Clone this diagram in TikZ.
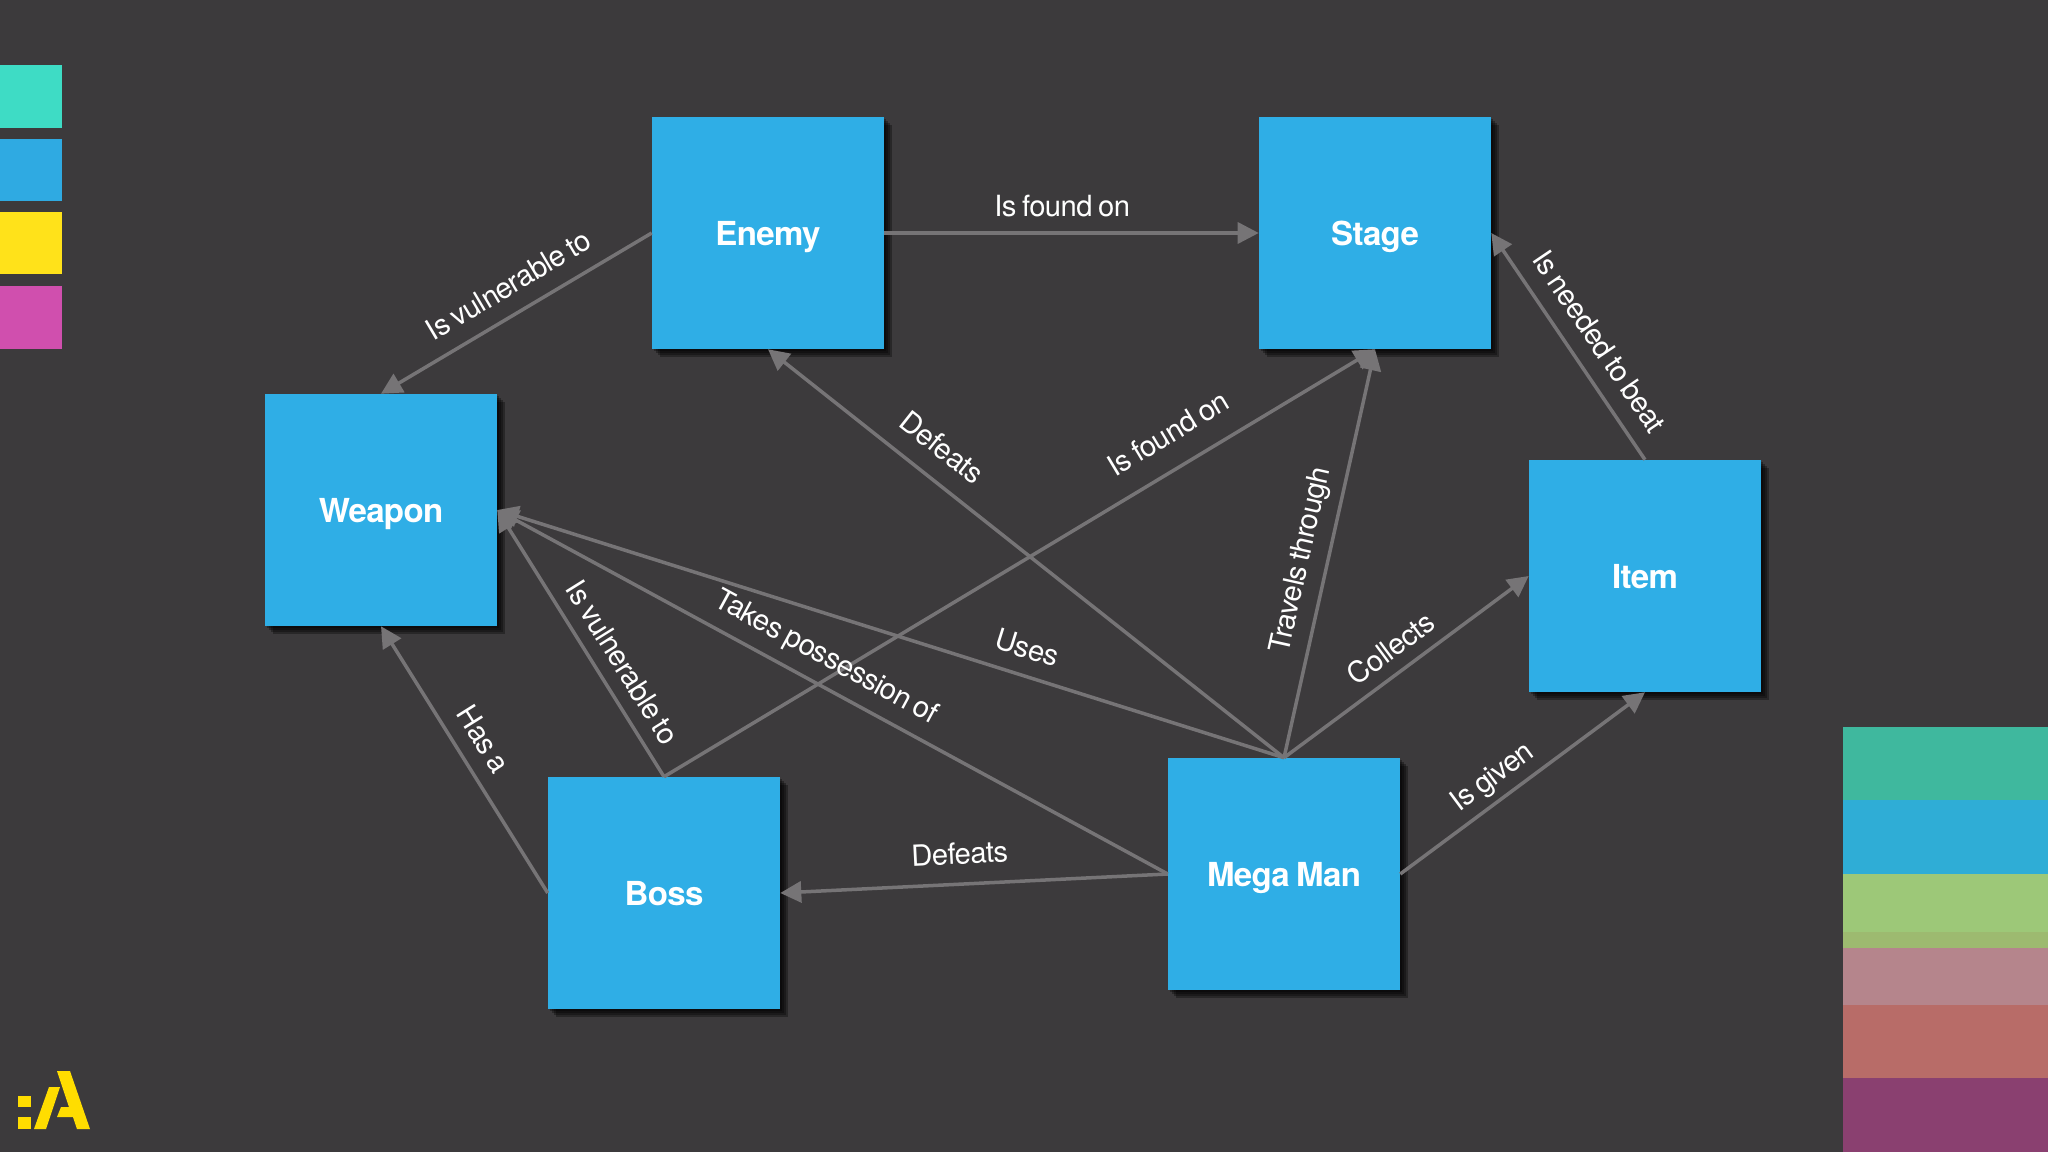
\documentclass[tikz,border=0pt]{standalone}
\usepackage{fontspec}
\setmainfont{TeX Gyre Heros}[LetterSpace=-2,WordSpace=0.75]
\usepackage{xcolor}
\usetikzlibrary{arrows.meta}
\usetikzlibrary{shadows}
\definecolor{bgdark}{HTML}{3C3A3C}
\definecolor{boxblue}{HTML}{2FAEE6}
\definecolor{linkgray}{HTML}{767476}
\definecolor{logoyellow}{HTML}{FFDD00}

\begin{document}
\begin{tikzpicture}[x=0.01cm,y=-0.01cm,
    softshadow/.style={general shadow={shadow xshift=#1,shadow yshift=-#1,fill=black,opacity=.32}},
    entity/.style={rectangle,fill=boxblue,minimum size=2.31cm,inner sep=0pt,text=white,
        text height=6.9pt,text depth=0pt,
        font=\fontsize{9.4}{11}\selectfont\bfseries,
        softshadow=0.08cm,softshadow=0.06cm,softshadow=0.04cm,softshadow=0.02cm},
    link/.style={-{Triangle[length=0.21cm,width=0.21cm]},line width=0.035cm,linkgray},
    lab/.style={text=white,font=\fontsize{8.3}{10}\selectfont,sloped,above,inner sep=0pt,yshift=0.13cm}]
    % background
    \fill[bgdark] (0,0) rectangle (2048,1152);
    \useasboundingbox (0,0) rectangle (2048,1152);

    % colour keys on the left
    \fill[fill={rgb,255:red,62;green,220;blue,197}] (0,65) rectangle (62,128);
    \fill[fill={rgb,255:red,47;green,170;blue,226}] (0,139) rectangle (62,201);
    \fill[fill={rgb,255:red,255;green,226;blue,26}] (0,212) rectangle (62,274);
    \fill[fill={rgb,255:red,208;green,79;blue,174}] (0,286) rectangle (62,349);

    % colour bars on the right
    \def\xbar{1843}
    \fill[fill={rgb,255:red,63;green,184;blue,158}] (\xbar,727) rectangle (2048,800);
    \fill[fill={rgb,255:red,47;green,173;blue,214}] (\xbar,800) rectangle (2048,874);
    \fill[fill={rgb,255:red,157;green,200;blue,120}] (\xbar,874) rectangle (2048,932);
    \fill[fill={rgb,255:red,157;green,186;blue,112}] (\xbar,932) rectangle (2048,948);
    \fill[fill={rgb,255:red,181;green,133;blue,140}] (\xbar,948) rectangle (2048,1005);
    \fill[fill={rgb,255:red,184;green,108;blue,104}] (\xbar,1005) rectangle (2048,1078);
    \fill[fill={rgb,255:red,138;green,64;blue,112}] (\xbar,1078) rectangle (2048,1152);

    % logo
    \fill[logoyellow] (18,1096) rectangle (31,1107);
    \fill[logoyellow] (18,1117) rectangle (31,1129);
    \fill[logoyellow] (49,1087) -- (60,1087) -- (46,1129) -- (34,1129) -- cycle;
    \fill[logoyellow] (57,1071) -- (70,1071) -- (90,1129) -- (77,1129) -- (73,1117)
        -- (57,1117) -- (61,1107) -- (69,1107) -- cycle;

    % entities
    \node[entity] (enemy)  at (768,233)  {Enemy};
    \node[entity] (stage)  at (1375,233) {Stage};
    \node[entity] (weapon) at (381,510)  {Weapon};
    \node[entity] (item)   at (1645,576) {Item};
    \node[entity] (boss)   at (664,893)  {Boss};
    \node[entity] (mega)   at (1284,874) {Mega Man};

    % relations
    \draw[link] (enemy.west) -- node[lab,pos=.476,yshift=0.03cm]{Is vulnerable to} (weapon.north);
    \draw[link] (enemy.east) -- node[lab,pos=.475,yshift=0.01cm]{Is found on} (stage.west);
    \draw[link] (item.north) -- node[lab,pos=.45,yshift=0.03cm]{Is needed to beat} (stage.east);
    \draw[link] (mega.north) -- node[lab,pos=.70,yshift=0.056cm]{Defeats} (enemy.south);
    \draw[link] (boss.north) -- node[lab,pos=.734,yshift=0.09cm]{Is found on} (stage.south);
    \draw[link] (mega.north) -- node[lab,pos=.47,yshift=-0.03cm]{Travels through} (stage.south);
    \draw[link] (mega.north) -- node[lab,pos=.495,yshift=-0.016cm]{Collects} (item.west);
    \draw[link] (mega.east) -- node[lab,pos=.433,yshift=-0.07cm]{Is given} (item.south);
    \draw[link] (mega.north) -- node[lab,pos=.337,yshift=0.022cm]{Uses} (weapon.east);
    \draw[link] (mega.west) -- node[lab,pos=.529,yshift=-0.02cm]{Takes possession of} (weapon.east);
    \draw[link] (boss.north) -- node[lab,pos=.378]{Is vulnerable to} (weapon.east);
    \draw[link] (boss.west) -- node[lab,pos=.523,yshift=0.016cm]{Has a} (weapon.south);
    \draw[link] (mega.west) -- node[lab,pos=.533,yshift=0.05cm]{Defeats} (boss.east);
\end{tikzpicture}
\end{document}
